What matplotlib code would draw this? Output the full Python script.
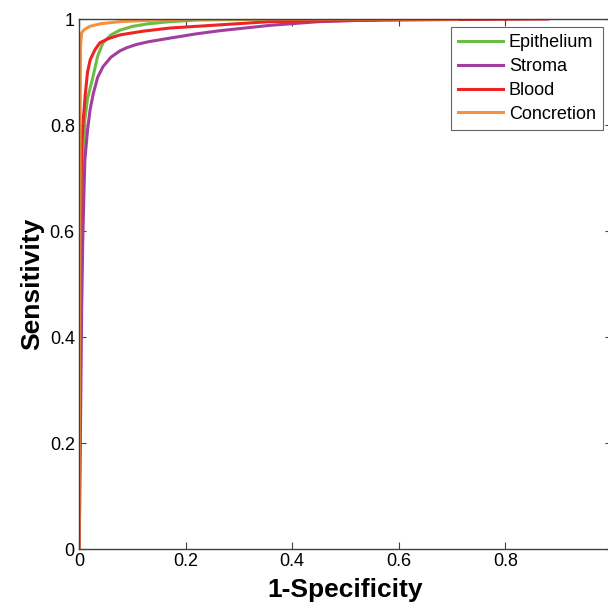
import matplotlib
matplotlib.use("Agg")
import matplotlib.pyplot as plt

plt.rcParams['font.family'] = ['Liberation Sans', 'DejaVu Sans']

labels = ["Epithelium", "Stroma", "Blood", "Concretion"]
colors = ["#6cbd45", "#a23ea0", "#ee2424", "#f7913d"]

epi_x = [0, 0.001, 0.002, 0.004, 0.006, 0.008, 0.011, 0.016, 0.026, 0.035, 0.045, 0.060, 0.077, 0.10, 0.13, 0.171, 0.22, 0.30, 0.40, 0.60]
epi_y = [0, 0.07, 0.30, 0.50, 0.62, 0.72, 0.81, 0.85, 0.89, 0.93, 0.955, 0.970, 0.979, 0.986, 0.991, 0.995, 0.998, 0.999, 1.0, 1.0]

str_x = [0, 0.001, 0.003, 0.005, 0.007, 0.009, 0.011, 0.016, 0.021, 0.027, 0.035, 0.045, 0.060, 0.077, 0.09, 0.108, 0.13, 0.171, 0.22, 0.265, 0.358, 0.45, 0.60]
str_y = [0, 0.06, 0.25, 0.45, 0.58, 0.66, 0.734, 0.79, 0.83, 0.86, 0.89, 0.91, 0.928, 0.940, 0.946, 0.952, 0.957, 0.964, 0.972, 0.978, 0.988, 0.995, 1.0]

bld_x = [0, 0.001, 0.002, 0.003, 0.004, 0.005, 0.008, 0.012, 0.016, 0.021, 0.030, 0.039, 0.055, 0.077, 0.12, 0.171, 0.265, 0.358, 0.50, 0.70, 0.88]
bld_y = [0, 0.15, 0.40, 0.58, 0.70, 0.76, 0.81, 0.86, 0.90, 0.923, 0.942, 0.955, 0.963, 0.970, 0.977, 0.983, 0.989, 0.995, 0.997, 0.999, 1.0]

con_x = [0, 0.001, 0.002, 0.003, 0.005, 0.010, 0.020, 0.040, 0.077, 0.12, 0.20, 0.40, 0.71]
con_y = [0, 0.30, 0.80, 0.95, 0.974, 0.980, 0.986, 0.991, 0.995, 0.997, 1.0, 1.0, 1.0]

xs = [epi_x, str_x, bld_x, con_x]
ys = [epi_y, str_y, bld_y, con_y]

xticks = [0, 0.2, 0.4, 0.6, 0.8]
xticklabels = ["0", "0.2", "0.4", "0.6", "0.8"]
yticks = [0, 0.2, 0.4, 0.6, 0.8, 1]
yticklabels = ["0", "0.2", "0.4", "0.6", "0.8", "1"]

fig = plt.figure(figsize=(6.08, 6.04), dpi=100)
ax = fig.add_axes([79/608, 55/604, 533/608, 530/604])

for i in range(4):
    ax.plot(xs[i], ys[i], color=colors[i], lw=2.2, label=labels[i],
            solid_joinstyle='round')

ax.set_xlim(0, 1)
ax.set_ylim(0, 1)
ax.set_xticks(xticks)
ax.set_xticklabels(xticklabels)
ax.set_yticks(yticks)
ax.set_yticklabels(yticklabels)
ax.tick_params(direction='in', top=True, right=True, length=5, width=0.8,
               color='#404040', labelsize=13, pad=3)
for s in ax.spines.values():
    s.set_color('#404040')
    s.set_linewidth(1.0)

ax.set_xlabel("1-Specificity", fontsize=19, fontweight='bold', labelpad=6)
ax.set_ylabel("Sensitivity", fontsize=19, fontweight='bold', labelpad=4)

leg = ax.legend(loc='upper left', bbox_to_anchor=(451/608, 1 - 27/604),
                bbox_transform=fig.transFigure,
                fontsize=13, frameon=True, fancybox=False, edgecolor='#404040',
                borderpad=0.4, labelspacing=0.38, handlelength=2.5, handletextpad=0.3,
                borderaxespad=0)
leg.get_frame().set_linewidth(0.8)

fig.savefig("out.png", dpi=100)
